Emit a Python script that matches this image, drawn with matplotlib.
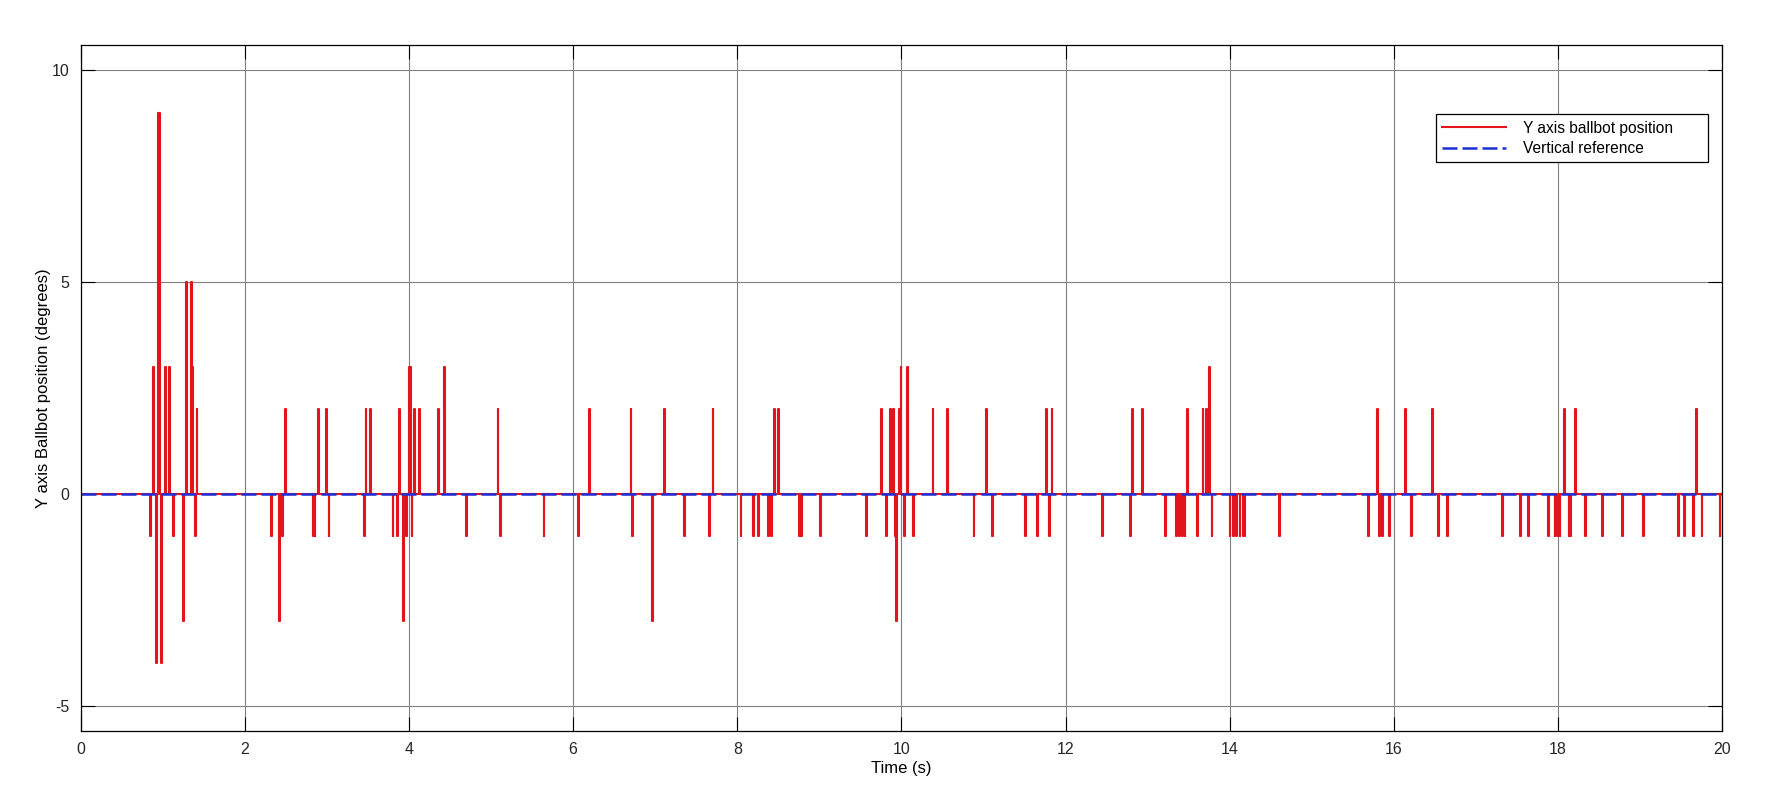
import numpy as np
import matplotlib.pyplot as plt

plt.rcParams['font.family'] = ['Liberation Sans', 'DejaVu Sans']
plt.rcParams['axes.unicode_minus'] = False

# spike samples: onset time (s) and level (degrees)
spike_t = [0.84, 0.88, 0.92, 0.94, 0.95, 0.98, 1.03, 1.08, 1.12, 1.25,
           1.28, 1.34, 1.36, 1.39, 1.41, 2.32, 2.42, 2.45, 2.49, 2.83,
           2.85, 2.89, 2.99, 3.02, 3.45, 3.47, 3.53, 3.80, 3.85, 3.88,
           3.93, 3.96, 4.00, 4.01, 4.03, 4.06, 4.12, 4.35, 4.43, 4.70,
           5.08, 5.11, 5.64, 6.06, 6.19, 6.70, 6.72, 6.96, 7.11, 7.35,
           7.66, 7.70, 8.04, 8.19, 8.25, 8.38, 8.41, 8.45, 8.50, 8.75,
           8.78, 9.01, 9.57, 9.75, 9.81, 9.86, 9.90, 9.92, 9.94, 9.97,
           9.99, 10.03, 10.07, 10.14, 10.38, 10.56, 10.88, 11.03, 11.10, 11.51,
           11.65, 11.76, 11.80, 11.83, 12.45, 12.79, 12.81, 12.93, 13.21, 13.35,
           13.38, 13.42, 13.45, 13.48, 13.60, 13.67, 13.71, 13.75, 13.78, 14.00,
           14.04, 14.08, 14.12, 14.16, 14.18, 14.60, 15.69, 15.80, 15.82, 15.86,
           15.94, 16.14, 16.21, 16.47, 16.54, 16.65, 17.32, 17.54, 17.64, 17.88,
           17.96, 17.99, 18.02, 18.08, 18.13, 18.15, 18.21, 18.33, 18.54, 18.78,
           19.04, 19.46, 19.54, 19.65, 19.68, 19.75, 19.97]
spike_y = [-1, 3, -4, 9, 9, -4, 3, 3, -1, -3,
           5, 5, 3, -1, 2, -1, -3, -1, 2, -1,
           -1, 2, 2, -1, -1, 2, 2, -1, -1, 2,
           -3, -1, 3, 3, -1, 2, 2, 2, 3, -1,
           2, -1, -1, -1, 2, 2, -1, -3, 2, -1,
           -1, 2, -1, -1, -1, -1, -1, 2, 2, -1,
           -1, -1, -1, 2, -1, 2, 2, -1, -3, 2,
           3, -1, 3, -1, 2, 2, -1, 2, -1, -1,
           -1, 2, -1, 2, -1, -1, 2, 2, -1, -1,
           -1, -1, -1, 2, -1, 2, 2, 3, -1, -1,
           -1, -1, -1, -1, -1, -1, -1, 2, -1, -1,
           -1, 2, -1, 2, -1, -1, -1, -1, -1, -1,
           -1, -1, -1, 2, -1, -1, 2, -1, -1, -1,
           -1, -1, -1, -1, 2, -1, -1]
dt = 0.01          # sample period (s)
t_end = 20.0

# build the held (zero-order) signal from the spike samples
t = [0.0]
y = [0.0]
for ti, yi in zip(spike_t, spike_y):
    t += [ti, ti + dt]
    y += [yi, 0.0]
t.append(t_end)
y.append(0.0)
order = np.argsort(np.array(t), kind='stable')
t = np.array(t)[order]
y = np.array(y)[order]

fig = plt.figure(figsize=(17.68, 8.08), dpi=100)
ax = fig.add_axes([0.0457, 0.0953, 0.9283, 0.8490])

ax.plot(t, y, drawstyle='steps-post', color='#e3141b', lw=1.5,
        label='Y axis ballbot position')
ax.plot([0, t_end], [0, 0], color='#1c2fd8', lw=1.8, dashes=(6, 2),
        label='Vertical reference')

ax.set_xlim(0, 20)
ax.set_ylim(-5.6, 10.6)
ax.set_xticks(np.arange(0, 21, 2))
ax.set_yticks([-5, 0, 5, 10])
ax.grid(True, color='#808080', lw=0.8)
ax.tick_params(direction='in', length=10, top=True, right=True,
               labelsize=11.5, pad=8, labelcolor='#262626')
for s in ax.spines.values():
    s.set_linewidth(0.9)

ax.set_xlabel('Time (s)', fontsize=12, labelpad=3)
ax.set_ylabel('Y axis Ballbot position (degrees)', fontsize=12, labelpad=1)

# MATLAB-style legend box: fixed width, entries left aligned
leg = ax.legend(loc='upper left', bbox_to_anchor=(0.8258, 0.70, 0.1657, 0.199),
                mode='expand', borderaxespad=0, fontsize=11.2,
                handlelength=4.1, handletextpad=1.1, labelspacing=0.35,
                fancybox=False, framealpha=1, borderpad=0.4)
leg.get_frame().set_edgecolor('black')
leg.get_frame().set_linewidth(0.9)

fig.savefig('out.png', dpi=100)
